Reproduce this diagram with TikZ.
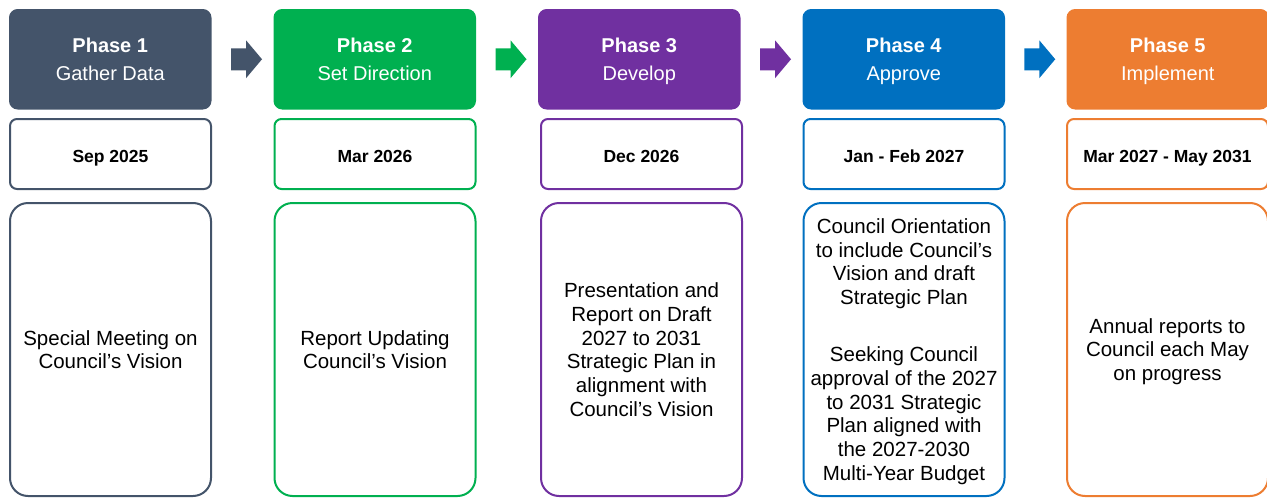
\documentclass[tikz,border=0pt]{standalone}
\usepackage{fontspec}
\setmainfont{Liberation Sans}
\definecolor{cA}{HTML}{44546A}
\definecolor{cB}{HTML}{00B050}
\definecolor{cC}{HTML}{7030A0}
\definecolor{cD}{HTML}{0070C0}
\definecolor{cE}{HTML}{ED7D31}
\tikzset{
  hdr/.style={draw=#1, fill=#1, line width=1.5pt, rounded corners=8pt, anchor=north west,
    minimum width=201pt, minimum height=99pt, inner sep=0pt, text=white, align=center,
    text depth=0pt, font=\fontsize{20}{28}\selectfont},
  datebox/.style={draw=#1, fill=white, line width=2pt, rounded corners=7pt, anchor=north west,
    minimum width=201pt, minimum height=70pt, inner sep=0pt, align=center,
    text height=16pt, text depth=0pt, font=\bfseries\fontsize{17.5}{21}\selectfont},
  bodybox/.style={draw=#1, fill=white, line width=2pt, rounded corners=18pt, anchor=north west,
    minimum width=201pt, minimum height=293pt, inner sep=0pt, align=center,
    text depth=0pt, font=\fontsize{20.5}{23.7}\selectfont},
  blockarrow/.style={fill=#1}
}
\begin{document}
\begin{tikzpicture}[x=1pt,y=-1pt]
\useasboundingbox (0,0) rectangle (1267,498);
% headers
\node[hdr=cA] (h1) at (9,9) {\textbf{Phase 1}\\Gather Data};
\node[hdr=cB] (h2) at (273.5,9) {\textbf{Phase 2}\\Set Direction};
\node[hdr=cC] (h3) at (538,9) {\textbf{Phase 3}\\Develop};
\node[hdr=cD] (h4) at (802.5,9) {\textbf{Phase 4}\\Approve};
\node[hdr=cE] (h5) at (1066.5,9) {\textbf{Phase 5}\\Implement};
% dates
\node[datebox=cA] (d1) at (9,118) {Sep 2025};
\node[datebox=cB] (d2) at (273.5,118) {Mar 2026};
\node[datebox=cC] (d3) at (540,118) {Dec 2026};
\node[datebox=cD] (d4) at (802.5,118) {Jan - Feb 2027};
\node[datebox=cE] (d5) at (1066,118) {Mar 2027 - May 2031};
% bodies
\node[bodybox=cA] (b1) at (9,202) {Special Meeting on\\Council’s Vision};
\node[bodybox=cB] (b2) at (273.5,202) {Report Updating\\Council’s Vision};
\node[bodybox=cC] (b3) at (540,202) {Presentation and\\Report on Draft\\2027 to 2031\\Strategic Plan in\\alignment with\\Council’s Vision};
\node[bodybox=cD] (b4) at (802.5,202) {Council Orientation\\to include Council’s\\Vision and draft\\Strategic Plan\\[33.4pt]Seeking Council\\approval of the 2027\\to 2031 Strategic\\Plan aligned with\\the 2027-2030\\Multi-Year Budget};
\node[bodybox=cE] (b5) at (1066,202) {Annual reports to\\Council each May\\on progress};
% block arrows
\foreach \i/\j/\c in {1/2/cA,2/3/cB,3/4/cC,4/5/cD}{
  \path (h\i.east) -- (h\j.west) coordinate[midway] (m\i);
  \fill[blockarrow=\c] ([shift={(-11.5,-11)}]m\i) -- ([shift={(3.5,-11)}]m\i)
     -- ([shift={(3.5,-19)}]m\i) -- ([shift={(19.5,0)}]m\i) -- ([shift={(3.5,19)}]m\i)
     -- ([shift={(3.5,11)}]m\i) -- ([shift={(-11.5,11)}]m\i) -- cycle;
}
\end{tikzpicture}
\end{document}
